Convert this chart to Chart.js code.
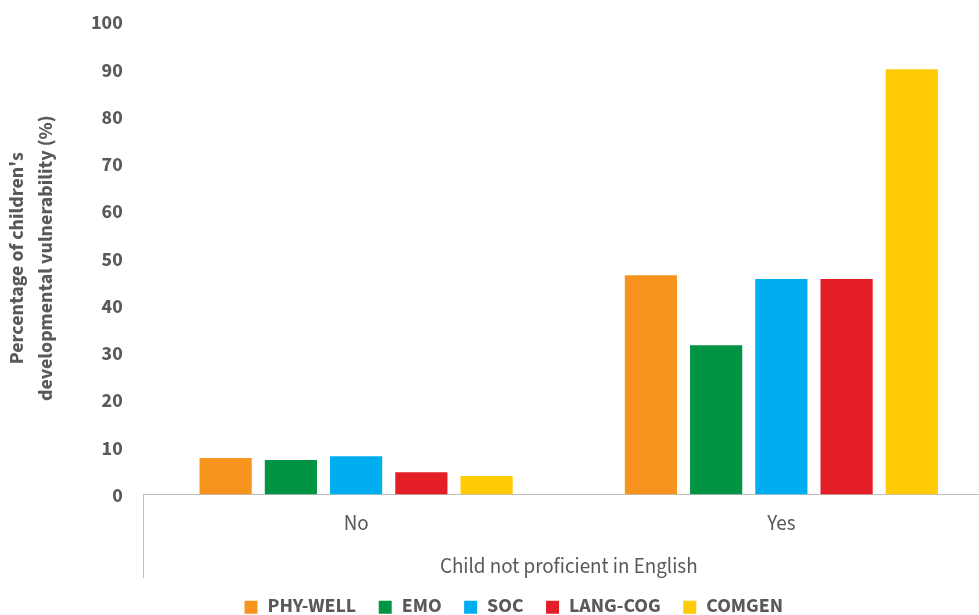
<!DOCTYPE html>
<html>
<head>
<meta charset="utf-8">
<script src="https://cdn.jsdelivr.net/npm/chart.js@4.4.1/dist/chart.umd.min.js"></script>
<style>
  html, body { margin: 0; padding: 0; background: #fff; }
  /* the plot runs a little past the right edge, so clip it */
  #wrap { width: 979px; height: 615px; overflow: hidden; }
</style>
</head>
<body>
<div id="wrap"><canvas id="chart" width="994" height="615"></canvas></div>
<script>
// categories along the x axis, one series per domain
const categories = ['No', 'Yes'];
const domains = ['PHY-WELL', 'EMO', 'SOC', 'LANG-COG', 'COMGEN'];

// % of children developmentally vulnerable, [No, Yes]
const phyWell = [7.7, 46.4];
const emo = [7.3, 31.6];
const soc = [8.1, 45.6];
const langCog = [4.7, 45.6];
const comgen = [3.9, 90.0];

const colors = ['#F7941D', '#009444', '#00AEEF', '#E31E26', '#FFCB05'];
const series = [phyWell, emo, soc, langCog, comgen];

const gray = '#595959';
const axisGray = '#bfbfbf';

Chart.defaults.font.family = '"Source Sans 3", "Source Sans Pro", Lato, sans-serif';
Chart.defaults.color = gray;

// legend row sits under the bars, not under the whole canvas
const legendNudge = {
    id: 'legendNudge',
    afterLayout(chart) {
        const lg = chart.legend;
        if (!lg) return;
        lg.left += 16.8;
        lg.right += 16.8;
    }
};

new Chart(document.getElementById('chart'), {
    type: 'bar',
    data: {
        labels: categories,
        datasets: series.map((values, i) => ({
            label: domains[i],
            data: values,
            backgroundColor: colors[i],
            borderWidth: 0,
            categoryPercentage: 0.767,
            barPercentage: 0.8
        }))
    },
    options: {
        responsive: false,
        animation: false,
        layout: { padding: { top: 22, right: 0, bottom: -12.2, left: 0 } },
        plugins: {
            tooltip: { enabled: false },
            legend: {
                position: 'bottom',
                labels: {
                    boxWidth: 13,
                    boxHeight: 13,
                    padding: 22.5,
                    color: gray,
                    font: { size: 20, weight: 'bold', lineHeight: 1 }
                }
            }
        },
        scales: {
            x: {
                grid: {
                    display: true,
                    drawOnChartArea: false,
                    drawTicks: true,
                    tickLength: 83.5,
                    offset: true,
                    // only the left divider of the category axis shows
                    color: ctx => ctx.index === 0 ? axisGray : 'rgba(0,0,0,0)'
                },
                border: { display: true, color: axisGray, width: 1 },
                ticks: { color: gray, font: { size: 21 }, padding: -65.6 },
                title: {
                    display: true,
                    text: 'Child not proficient in English',
                    color: gray,
                    font: { size: 21 },
                    padding: { top: 0, bottom: -6.8 }
                },
                afterFit: s => { s.height = 80.2; }
            },
            y: {
                min: 0,
                max: 100,
                ticks: {
                    stepSize: 10,
                    color: gray,
                    font: { size: 20, weight: 'bold' },
                    padding: 0,
                    labelOffset: 3
                },
                // invisible tick marks just keep the labels off the plot
                grid: { display: false, drawTicks: true, tickLength: 20.8 },
                border: { display: false },
                title: {
                    display: true,
                    text: ["Percentage of children's", 'developmental vulnerability (%)'],
                    color: gray,
                    font: { size: 20, weight: 'bold', lineHeight: 1.45 },
                    padding: { top: 4.5, bottom: 0 }
                },
                afterFit: s => { s.width = 143.5; }
            }
        }
    },
    plugins: [legendNudge]
});
</script>
</body>
</html>
